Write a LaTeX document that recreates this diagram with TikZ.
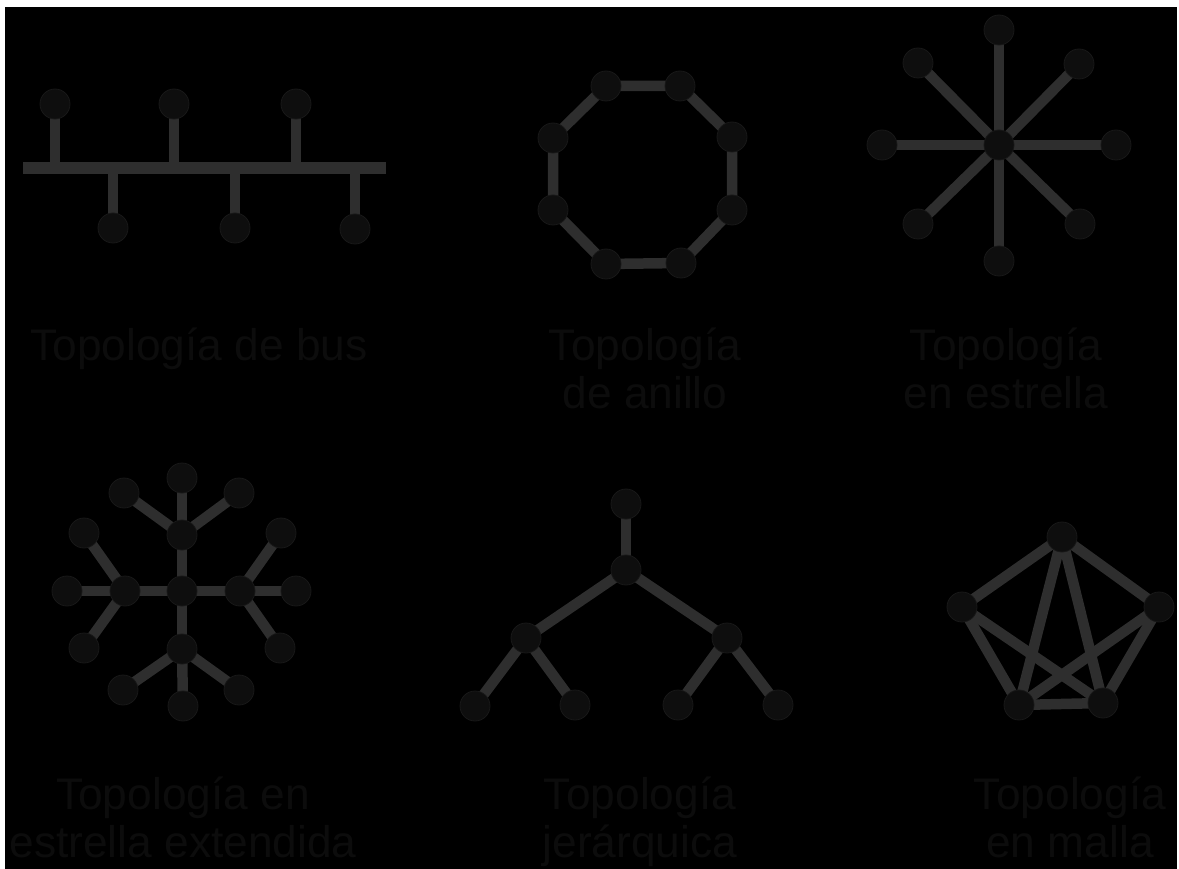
\documentclass[tikz,border=0pt]{standalone}
\usepackage{fontspec}
\setmainfont{Liberation Sans}
\usetikzlibrary{backgrounds}
\definecolor{edgegray}{RGB}{46,46,46}
\definecolor{nodefill}{RGB}{14,14,14}
\definecolor{nodeedge}{RGB}{24,24,24}
\definecolor{textdark}{RGB}{12,12,12}
\begin{document}
\begin{tikzpicture}[x=1pt,y=-1pt,
  dev/.style={circle,fill=nodefill,draw=nodeedge,line width=0.8pt,inner sep=0,minimum size=30pt},
  link/.style={draw=edgegray,line width=10.5pt},
  lbl/.style={text=textdark,font=\fontsize{44.3}{48}\selectfont,align=center,anchor=base,inner sep=0}]
\useasboundingbox (0,0) rectangle (1179,869);
% ---------- bus ----------
\node[dev] (b1) at (55,104) {};
\node[dev] (b2) at (174,104) {};
\node[dev] (b3) at (296,104) {};
\node[dev] (b4) at (113,228) {};
\node[dev] (b5) at (235,228) {};
\node[dev] (b6) at (355,229) {};
\coordinate (busL) at (23,168);
\coordinate (busR) at (386,168);
% ---------- ring ----------
\node[dev] (r1) at (606,86) {};
\node[dev] (r2) at (680,86) {};
\node[dev] (r3) at (732,137) {};
\node[dev] (r4) at (732,210) {};
\node[dev] (r5) at (681,263) {};
\node[dev] (r6) at (606,264) {};
\node[dev] (r7) at (553,210) {};
\node[dev] (r8) at (553,138) {};
% ---------- star ----------
\node[dev] (s0) at (999,145) {};
\node[dev] (s1) at (999,30) {};
\node[dev] (s2) at (1079,64) {};
\node[dev] (s3) at (1116,145) {};
\node[dev] (s4) at (1080,224) {};
\node[dev] (s5) at (999,261) {};
\node[dev] (s6) at (918,224) {};
\node[dev] (s7) at (882,145) {};
\node[dev] (s8) at (918,63) {};
% ---------- extended star ----------
\begin{scope}[every node/.append style={minimum size=29pt}]
\node[dev] (e0) at (182,591) {};
\node[dev] (eT) at (182,535) {};
\node[dev] (eL) at (125,591) {};
\node[dev] (eR) at (240,591) {};
\node[dev] (eB) at (182,649) {};
\node[dev] (eT1) at (182,478) {};
\node[dev] (eT2) at (124,493) {};
\node[dev] (eT3) at (239,493) {};
\node[dev] (eL1) at (67,591) {};
\node[dev] (eL2) at (84,533) {};
\node[dev] (eL3) at (84,648) {};
\node[dev] (eR1) at (296,591) {};
\node[dev] (eR2) at (281,533) {};
\node[dev] (eR3) at (280,648) {};
\node[dev] (eB1) at (183,706) {};
\node[dev] (eB2) at (123,690) {};
\node[dev] (eB3) at (239,690) {};
\end{scope}
% ---------- hierarchy ----------
\begin{scope}[every node/.append style={minimum size=32pt}]
\node[dev] (h0) at (626,504) {};
\node[dev] (h1) at (626,570) {};
\node[dev] (h2) at (526,638) {};
\node[dev] (h3) at (727,638) {};
\node[dev] (h4) at (475,706) {};
\node[dev] (h5) at (575,705) {};
\node[dev] (h6) at (678,705) {};
\node[dev] (h7) at (778,705) {};
\end{scope}
% ---------- mesh ----------
\begin{scope}[every node/.append style={minimum size=34pt}]
\node[dev] (m1) at (1062,537) {};
\node[dev] (m2) at (962,607) {};
\node[dev] (m3) at (1159,607) {};
\node[dev] (m4) at (1019,705) {};
\node[dev] (m5) at (1103,703) {};
\end{scope}
% ---------- labels (base = baseline of last line) ----------
\node[lbl] (t1) at (199,360) {Topología de bus};
\node[lbl] (t2) at (645,408) {Topología\\de anillo};
\node[lbl] (t3) at (1006,408) {Topología\\en estrella};
\node[lbl] (t4) at (183,857) {Topología en\\estrella extendida};
\node[lbl] (t5) at (640,857) {Topología\\jerárquica};
\node[lbl] (t6) at (1070,857) {Topología\\en malla};
% ---------- background and links ----------
\begin{pgfonlayer}{background}
\fill[white] (0,0) rectangle (1179,869);
\fill[black] (5,7) rectangle (1177,869);
\draw[edgegray,line width=12pt] (busL) -- (busR);
\foreach \n in {b1,b2,b3,b4,b5,b6} \draw[link] (\n.center) -- (\n.center |- busL);
\draw[link] (r1.center) -- (r2.center) -- (r3.center) -- (r4.center) -- (r5.center) -- (r6.center) -- (r7.center) -- (r8.center) -- cycle;
\foreach \n in {s1,s2,s3,s4,s5,s6,s7,s8} \draw[link] (s0.center) -- (\n.center);
\foreach \n in {eT,eL,eR,eB} \draw[link] (e0.center) -- (\n.center);
\foreach \n in {eT1,eT2,eT3} \draw[link] (eT.center) -- (\n.center);
\foreach \n in {eL1,eL2,eL3} \draw[link] (eL.center) -- (\n.center);
\foreach \n in {eR1,eR2,eR3} \draw[link] (eR.center) -- (\n.center);
\foreach \n in {eB1,eB2,eB3} \draw[link] (eB.center) -- (\n.center);
\draw[link] (h0.center) -- (h1.center);
\draw[link] (h1.center) -- (h2.center);
\draw[link] (h1.center) -- (h3.center);
\draw[link] (h2.center) -- (h4.center);
\draw[link] (h2.center) -- (h5.center);
\draw[link] (h3.center) -- (h6.center);
\draw[link] (h3.center) -- (h7.center);
\draw[link] (m1.center) -- (m2.center);
\draw[link] (m1.center) -- (m3.center);
\draw[link] (m1.center) -- (m4.center);
\draw[link] (m1.center) -- (m5.center);
\draw[link] (m2.center) -- (m4.center);
\draw[link] (m2.center) -- (m5.center);
\draw[link] (m3.center) -- (m4.center);
\draw[link] (m3.center) -- (m5.center);
\draw[link] (m4.center) -- (m5.center);
\end{pgfonlayer}
\end{tikzpicture}
\end{document}
